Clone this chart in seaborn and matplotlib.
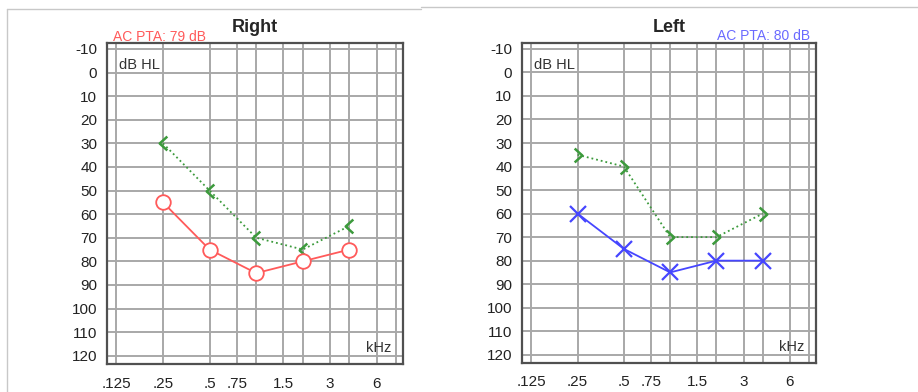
import numpy as np
import pandas as pd
import seaborn as sns
import matplotlib.pyplot as plt
from matplotlib.lines import Line2D
from matplotlib.path import Path

# audiogram data (kHz, dB HL)
freqs = [0.25, 0.5, 1, 2, 4]
right_ac = [55, 75, 85, 80, 75]
right_bc = [30, 50, 70, 75, 65]
left_ac = [60, 75, 85, 80, 80]
left_bc = [35, 40, 70, 70, 60]

grid_freqs = [0.125, 0.25, 0.5, 0.75, 1, 1.5, 2, 3, 4, 6, 8]
freq_labels = ['.125', '.25', '.5', '.75', '', '1.5', '', '3', '', '6', '']
db_ticks = list(range(-10, 130, 10))

sns.set_style("white")
plt.rcParams['font.family'] = ['Liberation Sans', 'DejaVu Sans']

# open chevrons for masked bone conduction
codes = [Path.MOVETO, Path.LINETO, Path.LINETO]
chev_left = Path([(0.55, 1.0), (-0.55, 0.0), (0.55, -1.0)], codes)
chev_right = Path([(-0.55, 1.0), (0.55, 0.0), (-0.55, -1.0)], codes)

fig = plt.figure(figsize=(9.18, 3.92), dpi=100)

# screenshot frame lines
fig.add_artist(Line2D([7/918, 7/918], [0, 1 - 9/392], color='#c8c8c8', lw=1))
fig.add_artist(Line2D([7/918, 421/918], [1 - 9/392, 1 - 9/392], color='#c8c8c8', lw=1))
fig.add_artist(Line2D([421/918, 1], [1 - 7/392, 1 - 7/392], color='#c8c8c8', lw=1))

red = '#ff5a5a'
blue = '#4646ff'
green = '#3c9a3c'


def setup_axes(ax, title):
    ax.set_xscale('log', base=2)
    ax.set_xlim(0.125 * 2 ** -0.2, 8 * 2 ** 0.15)
    ax.set_ylim(123.5, -12.5)
    ax.set_xticks(grid_freqs)
    ax.set_xticklabels(freq_labels)
    ax.xaxis.set_minor_locator(plt.NullLocator())
    ax.set_yticks(db_ticks)
    ax.set_yticklabels([str(v) for v in db_ticks])
    ax.tick_params(axis='both', length=0, labelsize=11, colors='#222222')
    ax.tick_params(axis='x', pad=9)
    ax.tick_params(axis='y', pad=7)
    ax.grid(True, color='#a8a8a8', linewidth=1.4)
    for sp in ax.spines.values():
        sp.set_color('#505050')
        sp.set_linewidth(1.6)
    ax.set_title(title, fontsize=13, fontweight='bold', pad=8)
    ax.set_xlabel('')
    ax.set_ylabel('')
    ax.text(0.04, 0.93, 'dB HL', transform=ax.transAxes, fontsize=10.5,
            color='#333333', va='center', ha='left')
    ax.text(0.96, 0.05, 'kHz', transform=ax.transAxes, fontsize=10.5,
            color='#333333', va='center', ha='right')


# Right ear
ax1 = fig.add_axes([107/918, 28/392, 296/918, 321/392])
setup_axes(ax1, 'Right')
sns.lineplot(x=freqs, y=right_bc, ax=ax1, color=green, linestyle=':', linewidth=1.3,
             marker=chev_left, markersize=10, markeredgewidth=1.8, markeredgecolor=green,
             markerfacecolor='none')
sns.lineplot(x=freqs, y=right_ac, ax=ax1, color=red, linewidth=1.3,
             marker='o', markersize=10.5, markeredgewidth=1.3, markeredgecolor=red,
             markerfacecolor='white')
ax1.text(0.02, 0.997, 'AC PTA: 79 dB', transform=ax1.transAxes, color=red,
         fontsize=10, ha='left', va='bottom')

# Left ear
ax2 = fig.add_axes([522/918, 29/392, 294/918, 320/392])
setup_axes(ax2, 'Left')
sns.lineplot(x=freqs, y=left_bc, ax=ax2, color=green, linestyle=':', linewidth=1.3,
             marker=chev_right, markersize=10, markeredgewidth=1.8, markeredgecolor=green,
             markerfacecolor='none')
sns.lineplot(x=freqs, y=left_ac, ax=ax2, color=blue, linewidth=1.3,
             marker='x', markersize=11, markeredgewidth=1.6, markeredgecolor=blue)
ax2.text(0.98, 1.0, 'AC PTA: 80 dB', transform=ax2.transAxes, color='#6a6aff',
         fontsize=10, ha='right', va='bottom')

fig.savefig('out.png', dpi=100)
